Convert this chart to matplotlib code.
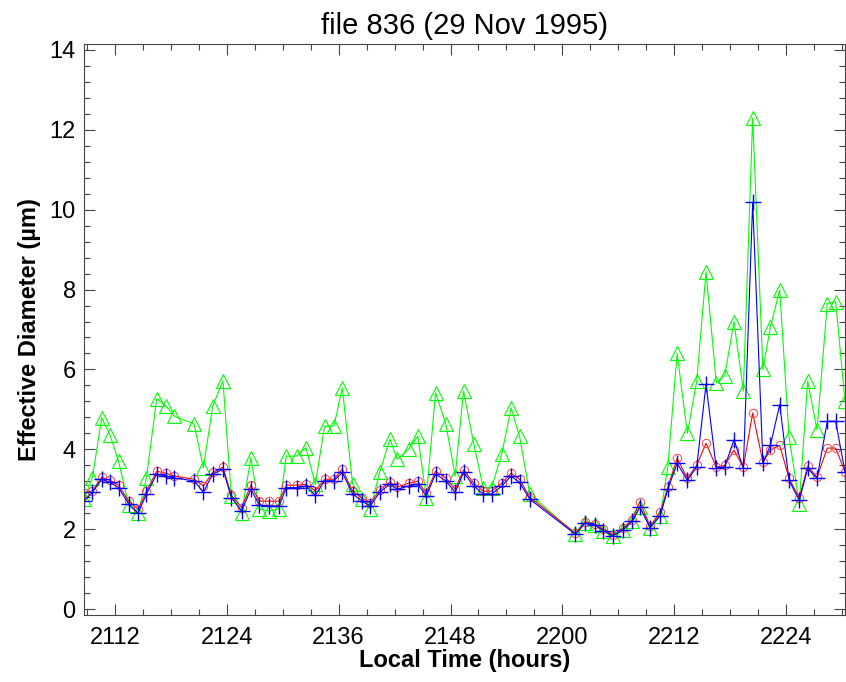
import numpy as np
import matplotlib
matplotlib.use("Agg")
import matplotlib.pyplot as plt
from matplotlib.ticker import FixedLocator, MultipleLocator, FuncFormatter

# time in minutes after 21:00 local, one sample per minute (gaps at 2119 and 2157-2200)
minutes = [8.7, 9.6, 10.6, 11.5, 12.4, 13.5, 14.5, 15.4, 16.5, 17.5, 18.4,
           20.5, 21.5, 22.5, 23.6, 24.5, 25.6, 26.6, 27.5, 28.5, 29.6,
           30.4, 31.5, 32.5, 33.5, 34.5, 35.5, 36.4, 37.5, 38.5, 39.4,
           40.4, 41.5, 42.3, 43.5, 44.5, 45.4, 46.4, 47.5, 48.5, 49.4,
           50.5, 51.5, 52.4, 53.5, 54.5, 55.4, 56.5,
           61.4, 62.4, 63.5, 64.4, 65.4, 66.5, 67.5, 68.3, 69.4, 70.5,
           71.3, 72.3, 73.4, 74.4, 75.4, 76.5, 77.4, 78.4, 79.4, 80.4,
           81.5, 82.3, 83.3, 84.3, 85.4, 86.3, 87.3, 88.4, 89.3, 90.3]

# green triangles
d_green = [2.75, 3.29, 4.79, 4.35, 3.71, 2.6, 2.4, 3.29, 5.27, 5.08, 4.83,
           4.63, 3.54, 5.08, 5.71, 2.83, 2.4, 3.79, 2.5, 2.46, 2.5,
           3.83, 3.83, 4.04, 3.12, 4.58, 4.58, 5.54, 3.13, 2.75, 2.5,
           3.42, 4.25, 3.75, 4.0, 4.33, 2.79, 5.42, 4.63, 3.33, 5.46,
           4.13, 3.04, 3.04, 3.88, 5.04, 4.33, 2.88,
           1.87, 2.15, 2.1, 1.96, 1.83, 1.98, 2.2, 2.55, 2.04, 2.34,
           3.56, 6.4, 4.4, 5.7, 8.45, 5.67, 5.84, 7.2, 5.46, 12.3,
           6.0, 7.06, 7.99, 4.32, 2.63, 5.71, 4.49, 7.65, 7.7, 5.2]

# blue crosses
d_blue = [2.7, 2.92, 3.25, 3.17, 3.04, 2.63, 2.4, 2.88, 3.38, 3.33, 3.28,
          3.21, 2.93, 3.38, 3.5, 2.79, 2.46, 3.0, 2.6, 2.58, 2.58,
          3.04, 3.04, 3.08, 2.85, 3.21, 3.21, 3.42, 2.88, 2.71, 2.58,
          2.92, 3.13, 3.0, 3.08, 3.13, 2.83, 3.38, 3.21, 2.92, 3.42,
          3.08, 2.88, 2.88, 3.08, 3.33, 3.17, 2.75,
          1.87, 2.15, 2.1, 1.96, 1.83, 1.98, 2.2, 2.55, 2.04, 2.34,
          3.0, 3.65, 3.22, 3.56, 5.63, 3.52, 3.56, 4.24, 3.52, 10.19,
          3.65, 4.1, 5.12, 3.22, 2.72, 3.52, 3.27, 4.7, 4.7, 3.43]

# red circles
d_red = [2.9, 2.96, 3.3, 3.22, 3.1, 2.7, 2.5, 2.95, 3.45, 3.4, 3.33,
         3.25, 3.08, 3.42, 3.55, 2.85, 2.54, 3.1, 2.7, 2.7, 2.7,
         3.1, 3.1, 3.12, 2.96, 3.25, 3.25, 3.5, 2.95, 2.78, 2.65,
         2.98, 3.18, 3.05, 3.15, 3.2, 2.9, 3.45, 3.28, 3.0, 3.48,
         3.15, 2.95, 2.95, 3.15, 3.4, 3.25, 2.8,
         1.9, 2.18, 2.13, 2.0, 1.86, 2.02, 2.24, 2.68, 2.08, 2.42,
         3.05, 3.77, 3.27, 3.6, 4.15, 3.55, 3.6, 3.98, 3.55, 4.91,
         3.68, 3.98, 4.1, 3.27, 2.78, 3.58, 3.3, 4.03, 4.03, 3.43]

xtick_minutes = [12, 24, 36, 48, 60, 72, 84]

plt.rcParams['font.family'] = ['Liberation Sans', 'DejaVu Sans']

fig = plt.figure(figsize=(8.46, 6.82), dpi=100)
ax = fig.add_axes([84 / 846, (682 - 615) / 682, (845 - 84) / 846, (615 - 44) / 682])

ax.plot(minutes, d_green, color='#00ff00', lw=0.8, marker='^', ms=10,
        mfc='none', mec='#00ff00', mew=0.8)
ax.plot(minutes, d_red, color='#ff0000', lw=0.8, marker='o', ms=6,
        mfc='none', mec='#ff4040', mew=0.7)
ax.plot(minutes, d_blue, color='#0000ff', lw=0.8, marker='+', ms=12,
        mec='#0000ff', mew=1.0)

ax.set_xlim(minutes[0], minutes[-1])
ax.set_ylim(-0.15, 14.15)


def hhmm(m, pos):
    m = int(round(m))
    return f"{21 + m // 60:02d}{m % 60:02d}"


ax.xaxis.set_major_locator(FixedLocator(xtick_minutes))
ax.xaxis.set_major_formatter(FuncFormatter(hhmm))
ax.xaxis.set_minor_locator(MultipleLocator(3))
ax.yaxis.set_major_locator(MultipleLocator(2))
ax.yaxis.set_minor_locator(MultipleLocator(0.4))

ax.tick_params(which='both', direction='in', top=True, right=True,
               width=0.8, color='#444444', labelsize=17)
ax.tick_params(which='major', length=8)
ax.tick_params(which='minor', length=4)
ax.tick_params(axis='x', pad=9)
ax.tick_params(axis='y', pad=6)

for s in ax.spines.values():
    s.set_linewidth(0.8)
    s.set_color('#444444')

ax.set_title('file 836 (29 Nov 1995)', fontsize=21, pad=7)
ax.set_xlabel('Local Time (hours)', fontsize=17, fontweight='bold', labelpad=0)
ax.set_ylabel('Effective Diameter (\u00b5m)', fontsize=17, fontweight='bold', labelpad=6)

fig.savefig('out.png', dpi=100)
